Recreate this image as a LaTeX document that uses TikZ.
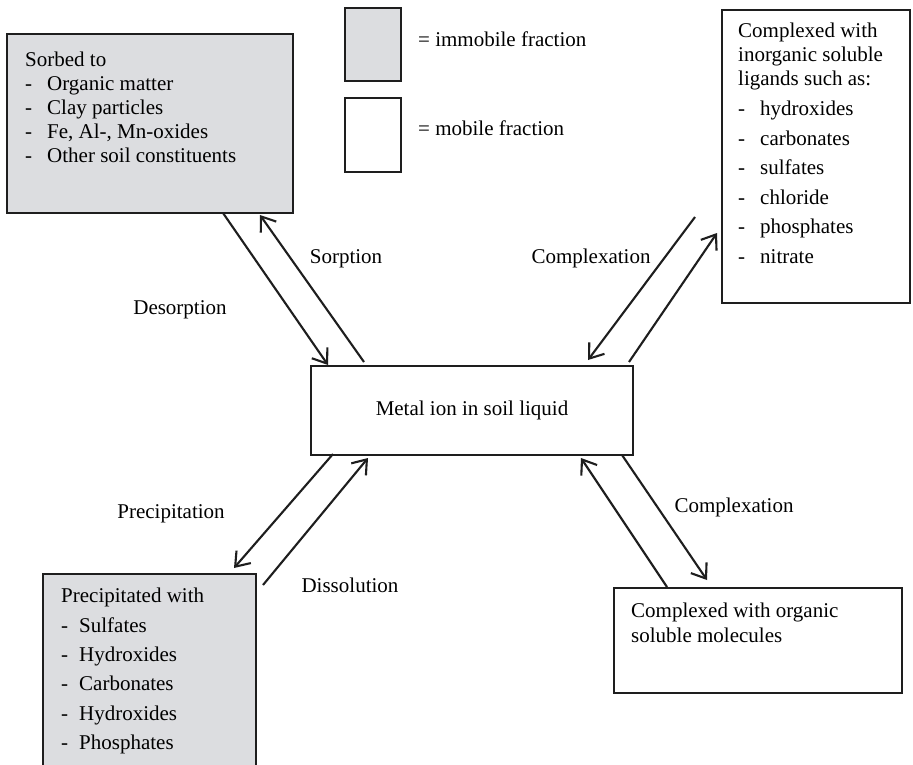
\documentclass[tikz,border=0pt]{standalone}
\usepackage{fontspec}
\setmainfont{Liberation Serif}
\usetikzlibrary{calc}
\usetikzlibrary{arrows.meta}
\definecolor{fixedgray}{RGB}{220,221,224}
\definecolor{inkline}{RGB}{30,30,30}
\tikzset{
  box/.style={draw=inkline, line width=2.9pt, inner sep=0pt, outer sep=0pt, anchor=north west},
  fixedbox/.style={box, fill=fixedgray},
  txt/.style={inner sep=0pt, anchor=base west, font=\fontsize{21}{24}\selectfont},
  lbl/.style={inner sep=0pt, anchor=base, font=\fontsize{21}{24}\selectfont},
  flow/.style={draw=inkline, line width=2.1pt, -{Straight Barb[length=13pt,width=19pt]}}
}

\begin{document}
\begin{tikzpicture}[x=1pt,y=-1pt]
\useasboundingbox (0,0) rectangle (913,765);
\clip (0,0) rectangle (913,765);
\fill[white] (0,0) rectangle (913,765);

% boxes
\node[fixedbox, minimum width=286pt, minimum height=179pt] (sorbed) at (7,34) {};
\node[fixedbox, minimum width=56pt, minimum height=73pt] (keyfixed) at (345,8) {};
\node[box, fill=white, minimum width=56pt, minimum height=74pt] (keymobile) at (345,98) {};
\node[box, fill=white, minimum width=188pt, minimum height=293pt] (inorg) at (722,10) {};
\node[box, fill=white, minimum width=322pt, minimum height=89pt,
      font=\fontsize{21}{24}\selectfont] (metal) at (311,366) {Metal ion in soil liquid};
\node[fixedbox, minimum width=213pt, minimum height=220pt] (precip) at (43,574) {};
\node[box, fill=white, minimum width=288pt, minimum height=105pt] (organic) at (614,588) {};

% box texts
\node[txt] (sorbedtext) at (25,67) {\begin{tabular}[t]{@{}l@{\hspace{15pt}}l@{}}
  \multicolumn{2}{@{}l@{}}{Sorbed to}\\
  - & Organic matter\\
  - & Clay particles\\
  - & Fe, Al-, Mn-oxides\\
  - & Other soil constituents
\end{tabular}};
\node[txt] (inorgtext) at (738,38) {\begin{tabular}[t]{@{}l@{\hspace{15pt}}l@{}}
  \multicolumn{2}{@{}l@{}}{Complexed with}\\
  \multicolumn{2}{@{}l@{}}{inorganic soluble}\\
  \multicolumn{2}{@{}l@{}}{ligands such as:}\\[6pt]
  - & hydroxides\\[5.5pt]
  - & carbonates\\[5.5pt]
  - & sulfates\\[5.5pt]
  - & chloride\\[5.5pt]
  - & phosphates\\[5.5pt]
  - & nitrate
\end{tabular}};
\node[txt] (preciptext) at (61,602) {\begin{tabular}[t]{@{}l@{\hspace{11pt}}l@{}}
  \multicolumn{2}{@{}l@{}}{Precipitated with}\\[6pt]
  - & Sulfates\\[5.4pt]
  - & Hydroxides\\[5.4pt]
  - & Carbonates\\[5.4pt]
  - & Hydroxides\\[5.4pt]
  - & Phosphates
\end{tabular}};
\node[txt] (organictext) at (631,617) {\begin{tabular}[t]{@{}l@{}}
  Complexed with organic\\[1pt]
  soluble molecules
\end{tabular}};

% key
\node[txt] (keyfixedtext) at (418,47) {= immobile fraction};
\node[txt] (keymobiletext) at (418,136) {= mobile fraction};

% process labels
\node[lbl] (desorb) at (180,314) {Desorption};
\node[lbl] (sorb) at (346,263) {Sorption};
\node[lbl] (complexup) at (591,263) {Complexation};
\node[lbl] (precipit) at (171,518) {Precipitation};
\node[lbl] (dissolve) at (350,592) {Dissolution};
\node[lbl] (complexdown) at (734,512) {Complexation};

% arrows
\coordinate (inorgfree) at (695,217);
\coordinate (dissfree) at (263,585);
\draw[flow] ($(sorbed.south west)+(216,0)$) -- ($(metal.north west)+(17,-1)$);
\draw[flow] ($(metal.north west)+(53,-4)$) -- ($(sorbed.south west)+(253,2)$);
\draw[flow] ($(metal.north east)+(-4,-4)$) -- ($(inorg.south west)+(-5,-70)$);
\draw[flow] (inorgfree) -- ($(metal.north west)+(277,-6)$);
\draw[flow] ($(metal.south west)+(22,-1)$) -- ($(precip.north west)+(191,-6)$);
\draw[flow] (dissfree) -- ($(metal.south west)+(57,3)$);
\draw[flow] ($(organic.north west)+(53,-1)$) -- ($(metal.south west)+(270,3)$);
\draw[flow] ($(metal.south west)+(311,0)$) -- ($(organic.north west)+(93,-8)$);
\end{tikzpicture}
\end{document}
